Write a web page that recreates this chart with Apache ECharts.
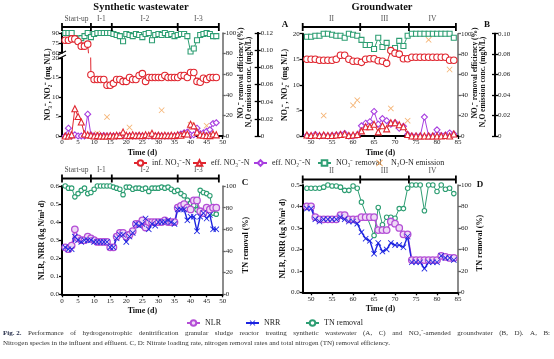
<!DOCTYPE html>
<html><head><meta charset="utf-8">
<script src="https://cdn.jsdelivr.net/npm/echarts@6/dist/echarts.min.js"></script>
<style>html,body{margin:0;padding:0;background:#fff}#c{width:554px;height:359px}</style>
</head><body><div id="c"></div>
<script>
// ---------------- DATA ----------------
const daysA = [1,2,3,4,5,6,7,8,9,10,11,12,13,14,15,16,17,18,19,20,21,22,23,24,25,26,27,28,29,30,31,32,33,34,35,36,37,38,39,40,41,42,43,44,45,46,47,48];
const daysB = [49,50,51,52,53,54,55,56,57,58,59,60,61,62,63,64,65,66,67,68,69,70,71,72,73,74,75,76,77,78,79,80,81,82,83,84];

// Panel A (synthetic wastewater), mg N/L and %
const infNO3A = [79,79,81,81,77,70,70,73,15.7,14.5,14.5,14.5,14.5,13.0,13.0,13.5,14.5,14.5,14.0,14.0,15.0,14.5,14.5,15.5,16.0,14.0,15.0,15.0,15.0,15.0,15.0,15.5,15.0,15.0,15.0,15.0,15.5,15.5,15.0,16.3,16.3,14.0,13.8,14.8,14.5,15.0,15.0,15.0];
const effNO3A = [0,0,0.3,7.0,5.0,3.6,0.5,0.3,0.2,0,0.1,0,0,0,0.1,0,0.2,0.1,1.0,0.2,0.1,0.3,0.1,0.2,0.1,0.3,0.2,0.7,0.1,0.2,0.1,0.2,0.1,0.2,0.1,0.3,0.2,0.6,0.5,3.0,2.6,1.0,0.3,0.2,0.1,0.1,0.5,0.3];
const effNO2A = [0,2.0,0,0.3,0,0,0,5.6,0.3,0,0,0,0.1,0,0,0,0,0.1,0,0,0,0,0,0.1,0,0,0,0,0,0.1,0,0,0,0,0,0.2,0.5,0.8,1.0,0.2,0.3,2.0,0.6,0.8,1.2,1.6,3.2,3.4];
const removalA = [100,100,100,95,92,95,97,100,96,99,100,100,100,100,100,99,98,97,92,99,98,97,99,98,96,99,100,93,98,99,98,100,98,99,97,98,99,99,97,82,85,93,98,99,100,99,97,97];
const n2oDaysA = [11,14,21,31,40,45];
const n2oA = [0.003,0.022,0.010,0.030,0.013,0.012];

// Panel B (groundwater)
const infNO3B = [15.0,15.0,15.0,14.8,14.8,14.8,14.8,15.0,15.8,15.8,15.0,14.6,14.6,14.4,15.0,15.1,15.1,14.7,14.6,14.2,16.7,16.2,16.0,15.1,15.1,15.4,15.4,15.4,15.4,15.4,15.4,15.4,15.4,15.4,14.8,14.8];
const effNO3B = [0.2,0.1,0.2,0.1,0.2,0.1,0.1,0.2,0.3,0.4,0.1,0.2,0.3,1.0,1.8,1.8,2.3,0.8,2.0,1.4,2.6,2.6,2.2,1.8,0.3,0,0,0,0,0,0,0,0,0.1,0,0.4];
const effNO2B = [0.1,0,0.3,0,0.1,0,0.1,0.2,0.3,0.5,0,0,0.2,2.0,2.5,2.8,4.8,2.3,3.4,3.0,2.3,2.6,1.5,1.9,0.3,0,0,0,3.7,0,0,1.2,0.1,0.2,0.6,0.4];
const removalB = [97,97,98,98,100,100,99,98,98,96,100,99,98,94,89,89,85,96,87,91,84,86,93,88,98,100,100,100,100,100,100,100,100,100,100,96];
const n2oDaysB = [53,60,61,69,73,78,83];
const n2oB = [0.020,0.030,0.035,0.027,0.015,0.094,0.065];

// Panel C (kg N/m3 d, %)
const nlrC = [0.26,0.25,0.27,0.36,0.31,0.30,0.30,0.32,0.31,0.30,0.29,0.29,0.29,0.29,0.26,0.26,0.32,0.34,0.34,0.32,0.33,0.35,0.39,0.39,0.41,0.37,0.40,0.40,0.40,0.40,0.40,0.41,0.40,0.40,0.40,0.48,0.49,0.50,0.48,0.47,0.52,0.52,0.46,0.45,0.48,0.47,0.48,0.48];
const nrrC = [0.26,0.25,0.25,0.32,0.30,0.29,0.30,0.30,0.30,0.29,0.29,0.29,0.29,0.29,0.26,0.26,0.31,0.33,0.33,0.29,0.32,0.34,0.39,0.38,0.39,0.42,0.36,0.39,0.38,0.40,0.40,0.40,0.41,0.40,0.39,0.47,0.47,0.47,0.41,0.43,0.43,0.35,0.43,0.45,0.42,0.44,0.36,0.36];
const tnC = [100,98,98,90,93,96,98,93,94,97,100,100,100,100,100,99,98,97,92,99,99,97,98,98,97,98,95,98,98,98,99,98,99,97,95,96,93,91,87,84,82,78,96,94,93,91,75,74];

// Panel D
const nlrD = [0.40,0.40,0.35,0.34,0.34,0.34,0.34,0.34,0.36,0.36,0.34,0.34,0.34,0.35,0.35,0.35,0.35,0.29,0.29,0.29,0.33,0.32,0.30,0.27,0.27,0.15,0.15,0.15,0.15,0.15,0.15,0.15,0.17,0.165,0.16,0.16];
const nrrD = [0.39,0.39,0.34,0.33,0.34,0.34,0.34,0.34,0.35,0.34,0.33,0.33,0.32,0.28,0.25,0.24,0.18,0.23,0.19,0.20,0.23,0.22,0.22,0.21,0.26,0.14,0.14,0.14,0.11,0.14,0.14,0.14,0.17,0.16,0.16,0.15];
const tnD = [97,97,97,97,98,100,99,99,98,95,95,99,97,84,null,null,53,79,63,70,70,69,78,78,97,100,100,100,76,100,100,94,100,96,97,92];

// Phases & ticks
const phasesSW = ['Start-up','I-1','I-2','I-3'];
const phaseEdgesSW = [0,9,15.5,36,48.8];
const phasesGW = ['II','III','IV'];
const phaseEdgesGW = [48,61.7,73.3,84.5];
const xTicksSW = [0,5,10,15,20,25,30,35,40,45,50];
const xTicksGW = [50,55,60,65,70,75,80,85];

// ---------------- STYLE ----------------
const F = 'Liberation Serif';
const RED='#e0262f', PUR='#a83fe0', GRN='#2e9e73', ORG='#f2a152', NLRC='#b44fd6', BLUE='#1c24e0';
const XSYM = 'path://M0,1L1,0L5,4L9,0L10,1L6,5L10,9L9,10L5,6L1,10L0,9L4,5Z';
const lab = {fontFamily:F, fontSize:7, color:'#222', margin:3};
const nameStyle = {fontFamily:F, fontSize:8, fontWeight:'bold', color:'#111'};
const n2oFmt = v => v === 0 ? '0' : v.toFixed(2);

function G(l,t,w,h){return {left:l,top:t,width:w,height:h,containLabel:false};}
const grids = [
  G(62,33,160.7,19.7),   //0 A top
  G(62,58,160.7,78),     //1 A bottom
  G(62,33,160.7,103),    //2 A overlay
  G(62,17,160.7,10),     //3 A bracket
  G(302.7,33.7,155.3,102.3), //4 B
  G(302.7,17,155.3,10),  //5 B bracket
  G(62,186,160.7,108.3), //6 C
  G(62,168.5,160.7,10),  //7 C bracket
  G(302.7,185,155.3,107.3), //8 D
  G(302.7,169.5,155.3,10)   //9 D bracket
];
function hx(g,min,max){return {gridIndex:g,type:'value',min,max,show:false};}
function sx(g,min,max,ticks){return {gridIndex:g,type:'value',min,max,
  axisLine:{show:true,onZero:false,lineStyle:{color:'#000',width:2}},
  axisTick:{show:true,length:3,lineStyle:{color:'#000',width:1.3},customValues:ticks},
  axisLabel:Object.assign({customValues:ticks},lab),
  splitLine:{show:false},
  name:'Time (d)',nameLocation:'middle',nameGap:13,nameTextStyle:nameStyle};}
const xAxes = [hx(0,0,50), sx(1,0,50,xTicksSW), hx(2,0,50), hx(3,0,50),
  sx(4,48,85,xTicksGW), hx(5,48,85), sx(6,0,50,xTicksSW), hx(7,0,50), sx(8,48,85,xTicksGW), hx(9,48,85)];

function ya(g,pos,min,max,interval,opt){
  const color = (opt&&opt.color)||'#000';
  return Object.assign({gridIndex:g,type:'value',position:pos,min,max,interval,
    axisLine:{show:true,onZero:false,lineStyle:{color,width:(opt&&opt.lw)||2}},
    axisTick:{show:true,length:3,inside:false,lineStyle:{color,width:1.3}},
    axisLabel:Object.assign({},lab),
    splitLine:{show:false},nameLocation:'middle',nameRotate:90,nameTextStyle:nameStyle}, opt||{});
}
function hy(g){return {gridIndex:g,type:'value',min:0,max:1,show:false};}
const innerTicks = {show:true,inside:true,length:3,lineStyle:{color:'#000',width:1.3}};
const yAxes = [
  ya(0,'left',60,90,15),                      //0
  ya(1,'left',0,20,5),                        //1
  ya(2,'right',0,100,20,{color:'#666',lw:1.5}), //2
  ya(2,'right',0,0.12,0.02,{offset:35,axisLabel:Object.assign({},lab,{formatter:n2oFmt})}), //3
  ya(2,'right',0,0.12,0.02,{offset:35,axisLabel:{show:false},axisTick:innerTicks}), //4
  {gridIndex:2,type:'value',position:'left',min:0,max:1,axisLine:{show:false},axisTick:{show:false},axisLabel:{show:false},splitLine:{show:false},
    name:'NO₃⁻, NO₂⁻ (mg N/L)',nameLocation:'middle',nameRotate:90,nameGap:10,nameTextStyle:nameStyle}, //5
  hy(3), //6
  ya(4,'left',0,20,5,{name:'NO₃⁻, NO₂⁻ (mg N/L)',nameGap:10}), //7
  ya(4,'right',0,100,20,{color:'#666',lw:1.5}), //8
  ya(4,'right',0,0.10,0.02,{offset:37,axisLabel:Object.assign({},lab,{formatter:n2oFmt})}), //9
  ya(4,'right',0,0.10,0.02,{offset:37,axisLabel:{show:false},axisTick:innerTicks}), //10
  hy(5), //11
  ya(6,'left',0,0.6,0.1,{name:'NLR, NRR (kg N/m³ d)',nameGap:12,axisLabel:Object.assign({},lab,{formatter:v=>v.toFixed(1)})}), //12
  ya(6,'right',0,100,20,{color:'#666',lw:1.5}), //13
  hy(7), //14
  ya(8,'left',0,0.5,0.1,{name:'NLR, NRR (kg N/m³ d)',nameGap:14,axisLabel:Object.assign({},lab,{formatter:v=>v.toFixed(1)})}), //15
  ya(8,'right',0,100,20,{color:'#666',lw:1.5}), //16
  hy(9) //17
];

function pairs(xs,ys){return xs.map((x,i)=>[x,ys[i]]);}
function ln(name,xi,yi,data,color,symbol,size,extra){
  return Object.assign({type:'line',name,xAxisIndex:xi,yAxisIndex:yi,data,symbol,symbolSize:size,
    lineStyle:{color,width:1},itemStyle:{color:'#fff',borderColor:color,borderWidth:1.1},
    clip:true,connectNulls:true,emphasis:{disabled:true}},extra||{});
}
function xs(name,xi,yi,data,color,size){
  return {type:'scatter',name,xAxisIndex:xi,yAxisIndex:yi,data,symbol:XSYM,symbolSize:size,
    itemStyle:{color},emphasis:{disabled:true}};
}
const N_INF='inf. NO₃⁻-N', N_EN3='eff. NO₃⁻-N', N_EN2='eff. NO₂⁻-N', N_REM='NO₃⁻ removal', N_N2O='N₂O-N emission';

function brackets(xi,yi,edges,names){
  const mids = names.map((n,i)=>({name:n,value:[(edges[i]+edges[i+1])/2,0]}));
  return [
    {type:'line',xAxisIndex:xi,yAxisIndex:yi,data:edges.map(e=>[e,0]),symbol:'rect',symbolSize:[1.8,8],
      lineStyle:{color:'#000',width:2},itemStyle:{color:'#000'},clip:false,silent:true},
    {type:'scatter',xAxisIndex:xi,yAxisIndex:yi,data:mids,symbolSize:0,clip:false,silent:true,
      label:{show:true,position:'top',distance:4,formatter:'{b}',fontFamily:F,fontSize:7.5,color:'#222'}}
  ];
}

const NLRstyle = {itemStyle:{color:'#efd9f6',borderColor:NLRC,borderWidth:1.3},lineStyle:{color:NLRC,width:1.5}};
const NRRstyle = {itemStyle:{color:BLUE},lineStyle:{color:BLUE,width:1.4}};
const series = [
  // A
  ln(N_REM,2,2,pairs(daysA,removalA),GRN,'rect',5),
  ln(N_EN2,1,1,pairs(daysA,effNO2A),PUR,'diamond',6),
  ln(N_EN3,1,1,pairs(daysA,effNO3A),RED,'triangle',6),
  ln(N_INF,0,0,pairs(daysA.slice(0,9),infNO3A.slice(0,9)),RED,'circle',6.5),
  ln(N_INF,1,1,pairs(daysA.slice(7),infNO3A.slice(7)),RED,'circle',6.5),
  xs(N_N2O,2,3,pairs(n2oDaysA,n2oA),ORG,6),
  // B
  ln(N_REM,4,8,pairs(daysB,removalB),GRN,'rect',5),
  ln(N_EN2,4,7,pairs(daysB,effNO2B),PUR,'diamond',6),
  ln(N_EN3,4,7,pairs(daysB,effNO3B),RED,'triangle',6),
  ln(N_INF,4,7,pairs(daysB,infNO3B),RED,'circle',6.5),
  xs(N_N2O,4,9,pairs(n2oDaysB,n2oB),ORG,6),
  // C
  ln('TN removal',6,13,pairs(daysA,tnC),GRN,'circle',4.5),
  ln('NLR',6,12,pairs(daysA,nlrC),NLRC,'circle',6.5,NLRstyle),
  ln('NRR',6,12,pairs(daysA,nrrC),BLUE,XSYM,6,NRRstyle),
  // D
  ln('TN removal',8,16,pairs(daysB,tnD),GRN,'circle',4.5),
  ln('NLR',8,15,pairs(daysB,nlrD),NLRC,'circle',6.5,NLRstyle),
  ln('NRR',8,15,pairs(daysB,nrrD),BLUE,XSYM,6,NRRstyle),
  ...brackets(3,6,phaseEdgesSW,phasesSW),
  ...brackets(5,11,phaseEdgesGW,phasesGW),
  ...brackets(7,14,phaseEdgesSW,phasesSW),
  ...brackets(9,17,phaseEdgesGW,phasesGW)
];

function txt(x,y,text,font,align,rot){const t={type:'text',x,y,silent:true,
  style:{text,font,fill:'#111',align:align||'center',verticalAlign:'middle'}}; if(rot) t.rotation=rot; return t;}
const R90 = Math.PI/2;
const legText = {fontFamily:F,fontSize:8,color:'#222'};
function leg(name,left,top){return {data:[name],left,top,itemWidth:13,itemHeight:7,textStyle:legText,selectedMode:false,padding:0};}

// justified caption line
function justified(tokens,x0,x1,y,boldCount){
  const ctx = document.createElement('canvas').getContext('2d');
  const fonts = tokens.map((w,i)=> (i<boldCount?'bold ':'')+'7px '+F);
  const widths = tokens.map((w,i)=>{ctx.font=fonts[i];return ctx.measureText(w).width;});
  const total = widths.reduce((a,b)=>a+b,0);
  const gap = (x1-x0-total)/(tokens.length-1);
  let x = x0; const out=[];
  tokens.forEach((w,i)=>{out.push({type:'text',x,y,silent:true,style:{text:w,font:fonts[i],fill:i<boldCount?'#1a2340':'#333',verticalAlign:'middle'}}); x+=widths[i]+gap;});
  return out;
}
const captionLine1 = ['Fig. 2.'].concat('Performance of hydrogenotrophic denitrification granular sludge reactor treating synthetic wastewater (A, C) and NO₃⁻-amended groundwater (B, D). A, B:'.split(' '));

const option = {
  animation:false,
  backgroundColor:'#fff',
  grid:grids, xAxis:xAxes, yAxis:yAxes, series,
  legend:[
    leg(N_INF,133,159), leg(N_EN3,192,159), leg(N_EN2,253,159), leg(N_REM,317,159), leg(N_N2O,376,159),
    leg('NLR',186,319), leg('NRR',245,319), leg('TN removal',305,319)
  ],
  graphic:[
    txt(141,7,'Synthetic wastewater','bold 10.5px '+F),
    txt(382,7,'Groundwater','bold 10.5px '+F),
    txt(285,25,'A','bold 9px '+F),
    txt(487,25,'B','bold 9px '+F),
    txt(245,183,'C','bold 9px '+F),
    txt(480,185,'D','bold 9px '+F),
    txt(241,73,'NO₃⁻ removal efficiency (%)','bold 7.5px '+F,'center',R90),
    txt(249.5,82,'N₂O emission conc. (mgN/L)','bold 7.5px '+F,'center',R90),
    txt(475,73,'NO₃⁻ removal efficiency (%)','bold 7.5px '+F,'center',R90),
    txt(483.5,82,'N₂O emission conc. (mgN/L)','bold 7.5px '+F,'center',R90),
    txt(246,245,'TN removal (%)','bold 8px '+F,'center',R90),
    txt(480,243,'TN removal (%)','bold 8px '+F,'center',R90),
    {type:'line',silent:true,shape:{x1:58,y1:55,x2:66,y2:51},style:{stroke:'#000',lineWidth:1.2}},
    {type:'line',silent:true,shape:{x1:58,y1:59,x2:66,y2:55},style:{stroke:'#000',lineWidth:1.2}},
    ...justified(captionLine1,3,550,333,1),
    {type:'text',x:3,y:343,silent:true,style:{text:'Nitrogen species in the influent and effluent. C, D: Nitrate loading rate, nitrogen removal rates and total nitrogen (TN) removal efficiency.',
      font:'7px '+F,fill:'#333',verticalAlign:'middle'}}
  ]
};
const chart = echarts.init(document.getElementById('c'),null,{renderer:'canvas'});
chart.setOption(option);
</script></body></html>
